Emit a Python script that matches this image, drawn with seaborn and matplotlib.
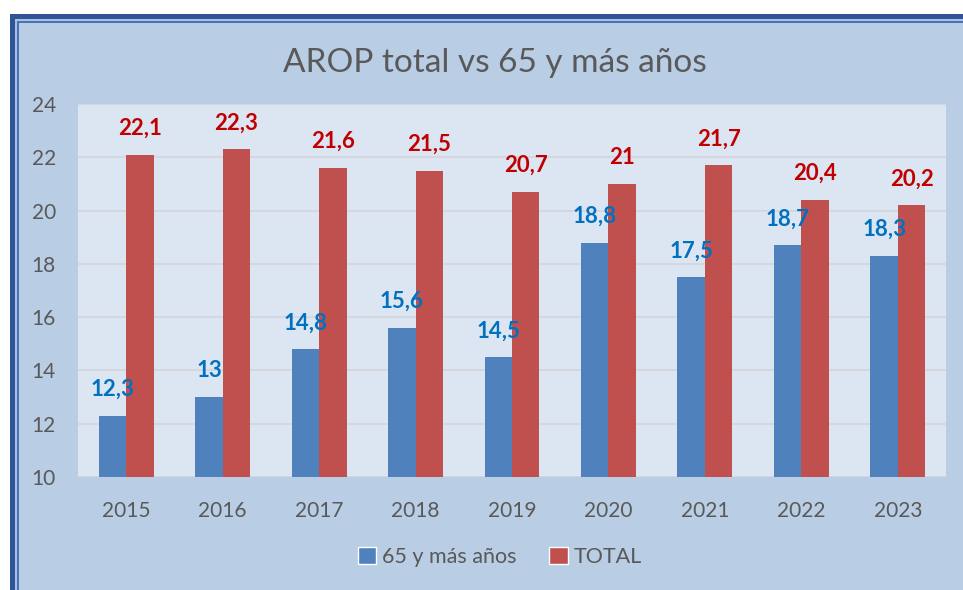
import pandas as pd
import seaborn as sns
import matplotlib.pyplot as plt
from matplotlib.patches import Rectangle, Patch

# Data
years = ['2015', '2016', '2017', '2018', '2019', '2020', '2021', '2022', '2023']
mayores_65 = [12.3, 13, 14.8, 15.6, 14.5, 18.8, 17.5, 18.7, 18.3]
total = [22.1, 22.3, 21.6, 21.5, 20.7, 21, 21.7, 20.4, 20.2]
series_names = ['65 y más años', 'TOTAL']

W, H = 963, 590
BG = '#b9cde5'
PLOT_BG = '#dce6f2'
BLUE = '#4f81bd'
RED = '#c0504d'
GREY = '#595959'


def fx(px):
    return px / W


def fy(py):
    return 1 - py / H


def fmt(v):
    s = f'{v:.1f}'.replace('.', ',')
    return s[:-2] if s.endswith(',0') else s


df = pd.DataFrame({
    'year': years * 2,
    'value': mayores_65 + total,
    'serie': [series_names[0]] * len(years) + [series_names[1]] * len(years),
})

sns.set_style('white')
plt.rcParams['font.family'] = ['Lato', 'DejaVu Sans']

fig = plt.figure(figsize=(W / 100, H / 100), dpi=100, facecolor='white')

# chart area background and frame
fig.add_artist(Rectangle((fx(10), 0), 1, fy(14), transform=fig.transFigure, facecolor=BG, edgecolor='none', zorder=0))
fig.add_artist(Rectangle((fx(10), fy(19)), 1, fy(14) - fy(19), transform=fig.transFigure, facecolor='#2f5597', edgecolor='none', zorder=1))
fig.add_artist(Rectangle((fx(10), 0), fx(5), fy(14), transform=fig.transFigure, facecolor='#2f5597', edgecolor='none', zorder=1))
fig.add_artist(Rectangle((fx(15), fy(21)), 1, fy(19) - fy(21), transform=fig.transFigure, facecolor='#a9c0e0', edgecolor='none', zorder=1))
fig.add_artist(Rectangle((fx(15), 0), fx(2), fy(19), transform=fig.transFigure, facecolor='#a9c0e0', edgecolor='none', zorder=1))
fig.add_artist(Rectangle((fx(17), fy(23)), 1, fy(21) - fy(23), transform=fig.transFigure, facecolor='#4a72b8', edgecolor='none', zorder=1))
fig.add_artist(Rectangle((fx(17), 0), fx(2), fy(21), transform=fig.transFigure, facecolor='#4a72b8', edgecolor='none', zorder=1))

ax = fig.add_axes([fx(78), fy(477), fx(946 - 78), fy(104) - fy(477)])
ax.set_facecolor(PLOT_BG)
ax.set_zorder(2)

sns.barplot(data=df, x='year', y='value', hue='serie', palette=[BLUE, RED],
            saturation=1, width=0.57, gap=0, linewidth=0, legend=False, ax=ax, zorder=3)

ax.set_ylim(10, 24)
ax.set_yticks(range(10, 25, 2))
ax.set_xlim(-0.5, len(years) - 0.5)
ax.grid(axis='y', color='#d3d6db', linewidth=1.2, zorder=0)
ax.set_axisbelow(True)
for s in ax.spines.values():
    s.set_visible(False)
ax.tick_params(axis='both', length=0, labelsize=15, labelcolor=GREY)
ax.tick_params(axis='x', pad=17)
ax.tick_params(axis='y', pad=16)
ax.set_xlabel('')
ax.set_ylabel('')

label_colors = ['#0070c0', '#c00000']
for container, vals, col in zip(ax.containers, [mayores_65, total], label_colors):
    for bar, v in zip(container, vals):
        ax.annotate(fmt(v), (bar.get_x() + bar.get_width() / 2, v), xytext=(0, 19),
                    textcoords='offset points', ha='center', va='center',
                    fontsize=16, fontweight='bold', color=col, zorder=5)

fig.text(fx(495), fy(63), 'AROP total vs 65 y más años', ha='center', va='center',
         fontsize=24, color=GREY)

handles = [Patch(facecolor=BLUE, label=series_names[0]), Patch(facecolor=RED, label=series_names[1])]
fig.legend(handles=handles, loc='center', bbox_to_anchor=(fx(500), fy(557)), ncol=2,
           frameon=False, fontsize=15.5, labelcolor=GREY, handlelength=0.85, handleheight=0.85,
           handletextpad=0.3, columnspacing=1.5)

fig.savefig('out.png', dpi=100, facecolor='white')
